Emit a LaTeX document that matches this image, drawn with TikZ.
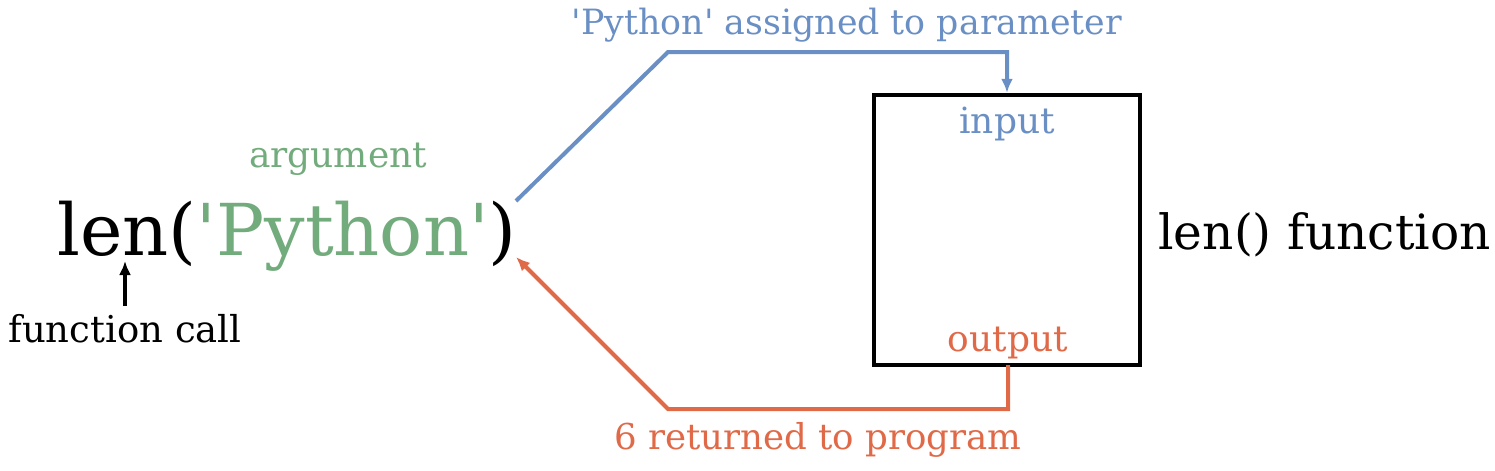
\documentclass[tikz,border=0pt]{standalone}
\usepackage{fontspec}
\setmainfont{DejaVu Serif}
\usetikzlibrary{arrows.meta}
\definecolor{pblue}{HTML}{6A8FC4}
\definecolor{pgreen}{HTML}{72AB7C}
\definecolor{porange}{HTML}{E06A48}
\newcommand{\sq}{\textquotesingle}
\tikzset{
  lbl/.style={inner sep=0pt, anchor=base},
  conn/.style={line width=2pt, line join=miter},
  tip/.style={-{Latex[length=7pt,width=6pt]}}
}
\begin{document}
\begin{tikzpicture}[x=0.5pt,y=-0.5pt]
\useasboundingbox (0,0) rectangle (1495,471);
% function box
\node[draw, line width=2.2pt, minimum width=266*0.5pt, minimum height=270*0.5pt, inner sep=0pt] (box) at (1007,230) {};
% main expression
\node[lbl, anchor=base west] (call) at (57,255) {\fontsize{35.8pt}{40pt}\selectfont len(\textcolor{pgreen}{\sq Python\sq})};
\node[lbl, text=pgreen] (arg) at (338,167) {\fontsize{18pt}{22pt}\selectfont argument};
\node[lbl] (fcall) at (125,342) {\fontsize{18.5pt}{22pt}\selectfont function call};
\node[lbl, anchor=base west] (lenfn) at (1158,249) {\fontsize{24.3pt}{28pt}\selectfont len() function};
\node[lbl, text=pblue] (input) at (1007,133) {\fontsize{18pt}{22pt}\selectfont input};
\node[lbl, text=porange] (output) at (1008,351) {\fontsize{18pt}{22pt}\selectfont output};
\node[lbl, text=pblue] (assigned) at (847,34) {\fontsize{17.4pt}{21pt}\selectfont \sq Python\sq{} assigned to parameter};
\node[lbl, text=porange] (returned) at (818,449) {\fontsize{17.8pt}{21pt}\selectfont 6 returned to program};
% coordinates
\coordinate (bs) at (516,201);
\coordinate (bk1) at (668,52);
\coordinate (bk2) at (1007,52);
\coordinate (os) at (1008,365);
\coordinate (ok1) at (1008,409);
\coordinate (ok2) at (668,409);
\coordinate (oe) at (516,257);
\coordinate (fa) at (125,306);
\coordinate (fb) at (125,261);
% connectors
\draw[conn, pblue, tip] (bs) -- (bk1) -- (bk2) -- (box.north -| bk2);
\draw[conn, porange, tip] (os) -- (ok1) -- (ok2) -- (oe);
\draw[line width=1.6pt, tip] (fa) -- (fb);
\end{tikzpicture}
\end{document}
